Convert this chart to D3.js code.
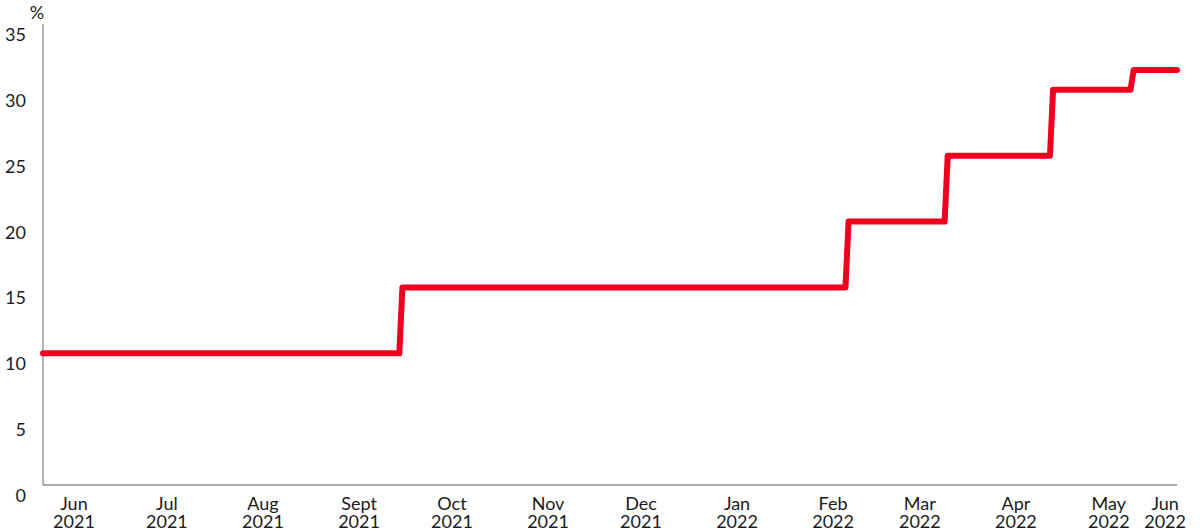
<!DOCTYPE html>
<html>
<head>
<meta charset="utf-8">
<script src="https://cdn.jsdelivr.net/npm/d3@7"></script>
<style>
  html, body { margin: 0; padding: 0; background: #fff; }
  svg { display: block; }
  text { font-family: Lato, "Noto Sans", sans-serif; fill: #1a1a1a; }
</style>
</head>
<body>
<svg id="chart" width="1201" height="532"></svg>
<script>
// ---- data ----
const dates = ["2021-05-22","2021-09-14","2021-09-15","2022-02-05","2022-02-06","2022-03-09","2022-03-10","2022-04-12","2022-04-13","2022-05-08","2022-05-09","2022-05-23"];
const values = [10,10,15,15,20,20,25,25,30,30,31.5,31.5];
const yTicks = [0,5,10,15,20,25,30,35];
const xTickDates = ["2021-06-01","2021-07-01","2021-08-01","2021-09-01","2021-10-01","2021-11-01","2021-12-01","2022-01-01","2022-02-01","2022-03-01","2022-04-01","2022-05-01","2022-06-01"];
const xTickMonths = ["Jun","Jul","Aug","Sept","Oct","Nov","Dec","Jan","Feb","Mar","Apr","May","Jun"];
const xTickYears = ["2021","2021","2021","2021","2021","2021","2021","2022","2022","2022","2022","2022","2022"];
const unitLabel = "%";

// ---- layout ----
const mLeft = 43, mRight = 1177, mTop = 24, mBottom = 485;
const parse = d3.utcParse("%Y-%m-%d");
const data = dates.map((d, i) => ({ date: parse(d), value: values[i] }));

const x = d3.scaleUtc().domain([parse(dates[0]), parse(dates[dates.length - 1])]).range([mLeft, mRight]);
const y = d3.scaleLinear().domain([0, 35]).range([mBottom, mTop]);

const svg = d3.select("#chart");

// y axis line
svg.append("line")
  .attr("x1", mLeft).attr("x2", mLeft).attr("y1", mTop).attr("y2", mBottom)
  .attr("stroke", "#808080").attr("stroke-width", 1.2);

// x axis line
svg.append("line")
  .attr("x1", mLeft).attr("x2", mRight).attr("y1", mBottom).attr("y2", mBottom)
  .attr("stroke", "#555").attr("stroke-width", 1.2);

// y tick labels
svg.append("g").selectAll("text").data(yTicks).join("text")
  .attr("x", 26).attr("y", d => y(d) + 17)
  .attr("text-anchor", "end")
  .attr("font-size", 18)
  .text(d => d);

// unit
svg.append("text").attr("x", 37).attr("y", 19).attr("text-anchor", "middle")
  .attr("font-size", 18).text(unitLabel);

// x tick labels (month + year in one text element)
const xg = svg.append("g");
xTickDates.forEach((d, i) => {
  const t = xg.append("text").attr("text-anchor", "middle").attr("font-size", 18);
  const s1 = t.append("tspan").attr("y", 510).text(xTickMonths[i]);
  const s2 = t.append("tspan").attr("y", 528).text(xTickYears[i]);
  const w = Math.max(s1.node().getComputedTextLength(), s2.node().getComputedTextLength());
  let cx = x(parse(d));
  cx = Math.min(cx, 1186 - w / 2);
  s1.attr("x", cx); s2.attr("x", cx);
});

// line
const line = d3.line().x(d => x(d.date)).y(d => y(d.value));
svg.append("path")
  .datum(data)
  .attr("d", line)
  .attr("fill", "none")
  .attr("stroke", "#f0001e")
  .attr("stroke-width", 6)
  .attr("stroke-linejoin", "round")
  .attr("stroke-linecap", "round");
</script>
</body>
</html>
